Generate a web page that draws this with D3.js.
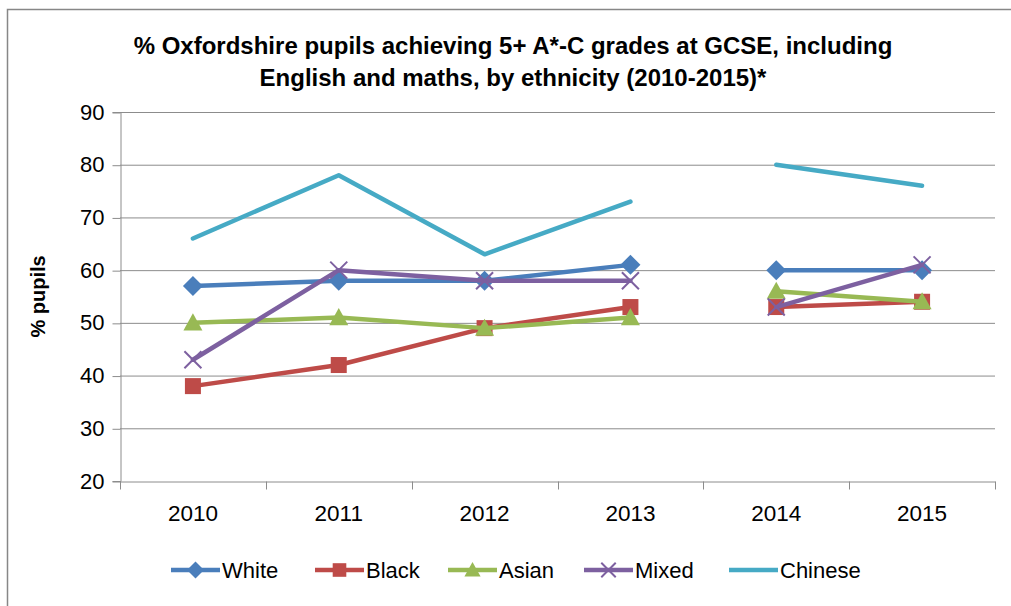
<!DOCTYPE html>
<html><head><meta charset="utf-8">
<script src="https://cdn.jsdelivr.net/npm/d3@7"></script>
<style>body{margin:0;background:#fff}</style>
</head><body>
<script>
const years = ["2010","2011","2012","2013","2014","2015"];
// lines are broken between 2013 and 2014 in the original chart
const segments = [["2010","2011","2012","2013"],["2014","2015"]];
const white   = [57, 58, 58, 61, 60, 60];
const black   = [38, 42, 49, 53, 53, 54];
const asian   = [50, 51, 49, 51, 56, 54];
const mixed   = [43, 60, 58, 58, 53, 61];
const chinese = [66, 78, 63, 73, 80, 76];
const yTicks = [20, 30, 40, 50, 60, 70, 80, 90];
const seriesNames = ["White","Black","Asian","Mixed","Chinese"];
const seriesValues = [white, black, asian, mixed, chinese];
const colors = ["#4A7EBB","#BE4B48","#98B954","#7D60A0","#46AAC5"];
const markers = ["diamond","square","triangle","x","none"];

const W = 1011, H = 606;
const svg = d3.select("body").append("svg").attr("width", W).attr("height", H);
svg.append("rect").attr("x", 7.5).attr("y", 9.5).attr("width", 1030).attr("height", 620)
  .attr("fill", "#fff").attr("stroke", "#878787").attr("stroke-width", 1.5);

const mLeft = 120, mRight = 995, mTop = 112, mBottom = 481;
const x = d3.scaleBand().domain(years).range([mLeft, mRight]);
const y = d3.scaleLinear().domain([20, 90]).range([mBottom, mTop]);
const font = "'Liberation Sans', Arial, sans-serif";

// title
const title = svg.append("text").attr("text-anchor", "middle").attr("font-family", font)
  .attr("font-weight", "bold").attr("font-size", 24).attr("fill", "#000");
title.append("tspan").attr("x", 513).attr("y", 54)
  .text("% Oxfordshire pupils achieving 5+ A*-C grades at GCSE, including");
title.append("tspan").attr("x", 513).attr("y", 86)
  .text("English and maths, by ethnicity (2010-2015)*");

// gridlines
svg.append("g").selectAll("line").data(yTicks.filter(t => t > 20)).join("line")
  .attr("x1", mLeft).attr("x2", mRight).attr("y1", d => y(d) + 0.5).attr("y2", d => y(d) + 0.5)
  .attr("stroke", "#8c8c8c").attr("stroke-width", 1);

// y axis
const yAxis = svg.append("g").attr("transform", `translate(${mLeft + 0.5},0)`)
  .call(d3.axisLeft(y).tickValues(yTicks).tickSize(8).tickPadding(8));
yAxis.select(".domain").attr("stroke", "#8c8c8c");
yAxis.selectAll(".tick line").attr("stroke", "#8c8c8c").attr("transform", "translate(0,0.5)");
yAxis.selectAll("text").attr("font-family", font).attr("font-size", 22).attr("fill", "#000");

// x axis
const xAxis = svg.append("g").attr("transform", `translate(0,${mBottom + 0.5})`)
  .call(d3.axisBottom(x).tickSize(0).tickPadding(24));
xAxis.select(".domain").attr("stroke", "#8c8c8c");
xAxis.selectAll("text").attr("font-family", font).attr("font-size", 22.5).attr("fill", "#000");
const bounds = years.map(yr => x(yr)).concat([mRight]);
xAxis.selectAll(".bt").data(bounds).join("line").attr("class", "bt")
  .attr("x1", d => Math.round(d) + 0.5).attr("x2", d => Math.round(d) + 0.5)
  .attr("y1", 0).attr("y2", 8).attr("stroke", "#8c8c8c");

// y axis title
svg.append("text").attr("transform", `translate(45,${(mTop + mBottom) / 2}) rotate(-90)`)
  .attr("text-anchor", "middle").attr("font-family", font).attr("font-weight", "bold")
  .attr("font-size", 20).text("% pupils");

function drawMarker(g, type, color, cx, cy, small) {
  const s = small ? 0.85 : 1;
  if (type === "diamond") {
    const r = 10 * s;
    g.append("path").attr("d", `M${cx},${cy - r}L${cx + r},${cy}L${cx},${cy + r}L${cx - r},${cy}Z`).attr("fill", color);
  } else if (type === "square") {
    const r = 8 * s;
    g.append("rect").attr("x", cx - r).attr("y", cy - r).attr("width", 2 * r).attr("height", 2 * r).attr("fill", color);
  } else if (type === "triangle") {
    const r = 9.5 * s;
    g.append("path").attr("d", `M${cx},${cy - r}L${cx + r},${cy + r * 0.8}L${cx - r},${cy + r * 0.8}Z`).attr("fill", color);
  } else if (type === "x") {
    const r = 8.5 * s;
    g.append("path").attr("d", `M${cx - r},${cy - r}L${cx + r},${cy + r}M${cx - r},${cy + r}L${cx + r},${cy - r}`)
      .attr("stroke", color).attr("stroke-width", 2).attr("fill", "none");
  }
}

const bw = x.bandwidth() / 2;
const line = d3.line().x(d => x(d.year) + bw).y(d => y(d.v));
const plot = svg.append("g");
seriesNames.forEach((name, i) => {
  const pts = years.map((yr, j) => ({ year: yr, v: seriesValues[i][j] }));
  const g = plot.append("g");
  segments.forEach(seg => {
    g.append("path").datum(pts.filter(p => seg.includes(p.year))).attr("d", line)
      .attr("fill", "none").attr("stroke", colors[i]).attr("stroke-width", 4.5)
      .attr("stroke-linejoin", "round").attr("stroke-linecap", "round");
  });
  pts.forEach(p => drawMarker(g, markers[i], colors[i], x(p.year) + bw, y(p.v), false));
});

// legend
const legendX = [171, 315, 448, 584, 729];
const ly = 570;
seriesNames.forEach((name, i) => {
  const g = svg.append("g");
  g.append("line").attr("x1", legendX[i]).attr("x2", legendX[i] + 49).attr("y1", ly).attr("y2", ly)
    .attr("stroke", colors[i]).attr("stroke-width", 4.5);
  drawMarker(g, markers[i], colors[i], legendX[i] + 24.5, ly, true);
  g.append("text").attr("x", legendX[i] + 51).attr("y", ly + 8).attr("font-family", font)
    .attr("font-size", 22).attr("fill", "#000").text(name);
});
</script>
</body></html>
